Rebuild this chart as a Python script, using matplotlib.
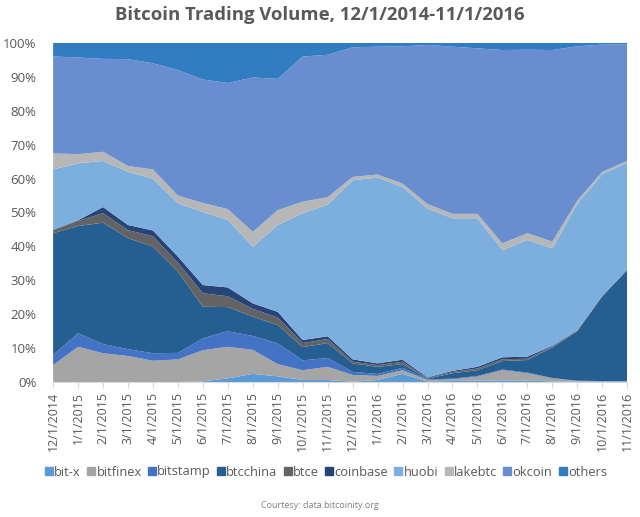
import matplotlib.pyplot as plt
from matplotlib.ticker import PercentFormatter

plt.rcParams['font.family'] = ['Open Sans', 'DejaVu Sans']

months = ['12/1/2014', '1/1/2015', '2/1/2015', '3/1/2015', '4/1/2015', '5/1/2015',
          '6/1/2015', '7/1/2015', '8/1/2015', '9/1/2015', '10/1/2015', '11/1/2015',
          '12/1/2015', '1/1/2016', '2/1/2016', '3/1/2016', '4/1/2016', '5/1/2016',
          '6/1/2016', '7/1/2016', '8/1/2016', '9/1/2016', '10/1/2016', '11/1/2016']

# share of volume, percent
bitx = [0, 0, 0, 0, 0, 0, 0.2, 1.1, 2.4, 1.7, 0.6, 0.6,
        0.1, 0.6, 2.4, 0.2, 0.3, 0.4, 0.5, 0.4, 0.2, 0.1, 0.1, 0.1]
bitfinex = [5.0, 10.4, 8.5, 7.7, 6.3, 6.7, 9.2, 9.3, 7.1, 3.6, 2.9, 3.9,
            2.0, 1.2, 1.1, 0.4, 0.5, 1.2, 3.0, 2.2, 0.9, 0.2, 0.1, 0.1]
bitstamp = [3.0, 4.0, 2.7, 2.0, 2.2, 1.9, 3.5, 4.6, 4.1, 6.1, 2.9, 2.6,
            0.9, 0.6, 0.7, 0.2, 0.2, 0.2, 0.2, 0.2, 0.1, 0.1, 0.1, 0.1]
btcchina = [35.9, 31.6, 35.8, 32.7, 31.5, 24.0, 9.3, 7.1, 5.7, 5.4, 3.9, 4.4,
            2.5, 2.1, 1.1, 0.2, 1.6, 1.7, 2.5, 3.7, 9.0, 14.6, 24.9, 32.7]
btce = [0.9, 1.5, 2.8, 2.4, 3.0, 2.6, 4.0, 3.2, 2.3, 2.2, 1.2, 1.2,
        0.5, 0.5, 0.7, 0.2, 0.4, 0.5, 0.5, 0.4, 0.3, 0.2, 0.2, 0.1]
coinbase = [0.1, 0.2, 1.8, 1.5, 1.7, 1.8, 2.4, 2.6, 1.6, 1.7, 0.9, 0.8,
            0.7, 0.5, 0.6, 0.2, 0.3, 0.5, 0.6, 0.6, 0.2, 0.1, 0.1, 0.1]
huobi = [17.8, 16.8, 13.6, 15.7, 15.2, 15.7, 21.5, 19.9, 16.7, 25.6, 37.4, 38.8,
         52.8, 54.8, 50.9, 49.8, 45.0, 43.8, 31.6, 34.4, 28.7, 37.2, 35.8, 31.5]
lakebtc = [4.7, 2.7, 2.7, 1.7, 2.8, 2.3, 2.7, 3.2, 4.4, 4.4, 3.4, 2.2,
           1.0, 0.9, 1.0, 1.3, 1.3, 1.3, 2.0, 2.0, 2.0, 1.0, 0.7, 0.5]
okcoin = [28.6, 28.5, 27.4, 31.5, 31.3, 37.0, 36.4, 37.2, 45.5, 38.7, 42.8, 42.0,
          38.2, 37.7, 40.5, 46.9, 49.3, 48.8, 57.0, 54.1, 56.5, 45.5, 37.5, 34.4]
others = [4.0, 4.3, 4.7, 4.8, 6.0, 8.0, 10.8, 11.8, 10.2, 10.6, 4.0, 3.5,
          1.3, 1.1, 1.0, 0.6, 1.1, 1.6, 2.1, 2.0, 2.1, 1.0, 0.5, 0.4]

names = ['bit-x', 'bitfinex', 'bitstamp', 'btcchina', 'btce', 'coinbase',
         'huobi', 'lakebtc', 'okcoin', 'others']
series = [bitx, bitfinex, bitstamp, btcchina, btce, coinbase, huobi, lakebtc, okcoin, others]
colors = ['#5B9BD5', '#A5A5A5', '#4472C4', '#255E91', '#636363', '#264478',
          '#7CAFDD', '#B7B7B7', '#698ED0', '#327DC2']

# normalise each month to 100%
x = list(range(len(months)))
totals = [sum(v) for v in zip(*series)]
shares = [[v / t * 100 for v, t in zip(s, totals)] for s in series]

fig = plt.figure(figsize=(6.4, 5.17), dpi=100)
ax = fig.add_axes([0.083, 0.261, 0.897, 0.656])
ax.stackplot(x, shares, colors=colors, labels=names, linewidth=0)

ax.set_xlim(0, len(months) - 1)
ax.set_ylim(0, 100)
ax.set_yticks(range(0, 101, 10))
ax.yaxis.set_major_formatter(PercentFormatter(decimals=0))
ax.set_xticks(x)
ax.set_xticklabels(months, rotation=90)
ax.tick_params(axis='y', length=0, pad=12, labelsize=9.5, labelcolor='#595959')
ax.tick_params(axis='x', length=4, color='#D9D9D9', pad=3, labelsize=9, labelcolor='#595959')
for side in ['top', 'right', 'left']:
    ax.spines[side].set_visible(False)
ax.spines['bottom'].set_color('#D9D9D9')

fig.text(0.5, 1 - 15 / 517, 'Bitcoin Trading Volume, 12/1/2014-11/1/2016',
         ha='center', va='center', fontsize=13.3, fontweight='bold', color='#595959')

handles = [plt.Line2D([], [], marker='s', ls='', color=c, markersize=6) for c in colors]
fig.legend(handles, names, loc='center', bbox_to_anchor=(0.51, 1 - 472 / 517), ncol=10,
           frameon=False, fontsize=9.3, handlelength=0.5, handletextpad=0.15,
           columnspacing=0.55, labelcolor='#595959')

fig.text(0.5, 1 - 506 / 517, 'Courtesy: data.bitcoinity.org', ha='center', va='center',
         fontsize=6.5, color='#808080')

fig.savefig('out.png', dpi=100)
